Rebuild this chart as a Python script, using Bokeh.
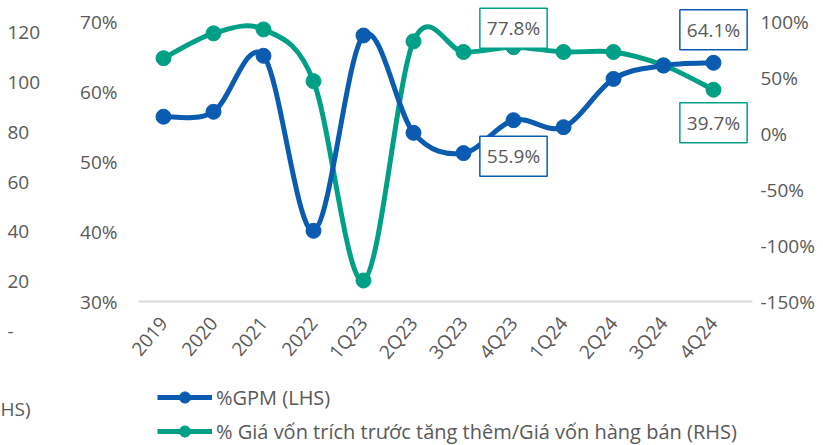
from bokeh.plotting import figure
from bokeh.layouts import row, column
from bokeh.models import (Range1d, LinearAxis, FixedTicker, PrintfTickFormatter,
                          Label, Legend, LegendItem)
from bokeh.embed import file_html
from bokeh.resources import INLINE

categories = ["2019", "2020", "2021", "2022", "1Q23", "2Q23", "3Q23", "4Q23",
              "1Q24", "2Q24", "3Q24", "4Q24"]
gpm = [56.4, 57.1, 65.1, 40.1, 68.0, 54.1, 51.2, 55.9, 54.9, 61.8, 63.7, 64.1]
cogs = [67.9, 90.2, 93.7, 47.3, -131.2, 83.0, 73.5, 77.8, 73.5, 73.5, 61.6, 39.7]
lhs_ticks = [30, 40, 50, 60, 70]
rhs_ticks = [-150, -100, -50, 0, 50, 100]
ghost_values = [0, 20, 40, 60, 80, 100, 120]
ghost_labels = ["-", "20", "40", "60", "80", "100", "120"]
gpm_name = "%GPM (LHS)"
cogs_name = "% Giá vốn trích trước tăng thêm/Giá vốn hàng bán (RHS)"
cut_text = "HS)"

BLUE = "#0B5CB0"
GREEN = "#00A086"
TXT = "#595959"
FONT = "Open Sans"

n = len(categories)
xs = [i + 0.5 for i in range(n)]


def bare(fig):
    fig.outline_line_color = None
    fig.xgrid.visible = False
    fig.ygrid.visible = False
    return fig


# ---- cut-off axis of the neighbouring chart (left strip) ----
g = bare(figure(width=60, height=445, output_backend="svg", toolbar_location=None,
                x_range=Range1d(0, 60), y_range=Range1d(-45.95, 133.05),
                x_axis_type=None, y_axis_type=None,
                min_border=0, min_border_left=0, min_border_right=0,
                min_border_top=0, min_border_bottom=0))
for v, t in zip(ghost_values, ghost_labels):
    g.add_layout(Label(x=7, x_units="screen", y=v, text=t,
                       text_font=FONT, text_font_size="19px", text_color=TXT,
                       text_baseline="middle", text_align="left"))
g.add_layout(Label(x=0, x_units="screen", y=37, y_units="screen", text=cut_text,
                   text_font=FONT, text_font_size="19px", text_color=TXT,
                   text_baseline="middle", text_align="left"))

# ---- main chart ----
p = bare(figure(width=763, height=375, output_backend="svg", toolbar_location=None,
                x_range=Range1d(0, n + 0.28), y_range=Range1d(30, 73.0),
                min_border_left=78, min_border_right=71, min_border_top=0,
                min_border_bottom=73))
p.extra_y_ranges = {"rhs": Range1d(-150, 119.6)}


def smooth(x, y):
    x0, y0, x1, y1, cx0, cy0, cx1, cy1 = [], [], [], [], [], [], [], []
    m = len(x)
    for i in range(m - 1):
        a = max(i - 1, 0)
        d = min(i + 2, m - 1)
        x0.append(x[i]); y0.append(y[i]); x1.append(x[i + 1]); y1.append(y[i + 1])
        cx0.append(x[i] + (x[i + 1] - x[a]) / 6.0)
        cy0.append(y[i] + (y[i + 1] - y[a]) / 6.0)
        cx1.append(x[i + 1] - (x[d] - x[i]) / 6.0)
        cy1.append(y[i + 1] - (y[d] - y[i]) / 6.0)
    return dict(x0=x0, y0=y0, x1=x1, y1=y1, cx0=cx0, cy0=cy0, cx1=cx1, cy1=cy1)


p.bezier(line_color=GREEN, line_width=5, y_range_name="rhs", **smooth(xs, cogs))
p.scatter(xs, cogs, size=15, color=GREEN, y_range_name="rhs")
p.bezier(line_color=BLUE, line_width=5, **smooth(xs, gpm))
p.scatter(xs, gpm, size=15, color=BLUE)

p.xaxis.ticker = FixedTicker(ticks=xs)
p.xaxis.major_label_overrides = {x: c for x, c in zip(xs, categories)}
p.xaxis.major_label_orientation = 0.87
p.xaxis.axis_line_color = "#D9D9D9"
p.xaxis.axis_line_width = 2
p.xaxis.major_tick_line_color = None
p.xaxis.major_tick_out = 0
p.xaxis.minor_tick_line_color = None
p.xaxis.major_label_text_font = FONT
p.xaxis.major_label_text_font_size = "19px"
p.xaxis.major_label_text_color = TXT
p.xaxis.major_label_standoff = 18

p.yaxis.ticker = FixedTicker(ticks=lhs_ticks)
p.yaxis.formatter = PrintfTickFormatter(format="%d%%")
p.yaxis.axis_line_color = None
p.yaxis.major_tick_line_color = None
p.yaxis.major_tick_out = 0
p.yaxis.minor_tick_line_color = None
p.yaxis.major_label_text_font = FONT
p.yaxis.major_label_text_font_size = "19px"
p.yaxis.major_label_text_color = TXT
p.yaxis.major_label_standoff = 21

ax_r = LinearAxis(y_range_name="rhs", ticker=FixedTicker(ticks=rhs_ticks),
                  formatter=PrintfTickFormatter(format="%d%%"))
ax_r.axis_line_color = None
ax_r.major_tick_line_color = None
ax_r.major_tick_out = 0
ax_r.minor_tick_line_color = None
ax_r.major_label_text_font = FONT
ax_r.major_label_text_font_size = "19px"
ax_r.major_label_text_color = TXT
ax_r.major_label_standoff = 8
p.add_layout(ax_r, "right")


def callout(i, vals, color, dy, rng=None):
    kw = dict(y_range_name=rng) if rng else {}
    p.add_layout(Label(x=xs[i], y=vals[i], y_offset=dy, text="%.1f%%" % vals[i],
                       text_font=FONT, text_font_size="19px", text_color=TXT,
                       text_align="center", text_baseline="middle",
                       border_line_color=color, border_line_width=1.5,
                       background_fill_color="white", padding=7, **kw))


callout(7, cogs, GREEN, 19, "rhs")
callout(7, gpm, BLUE, -36)
callout(11, gpm, BLUE, 33)
callout(11, cogs, GREEN, -33, "rhs")

# ---- legend strip (its renderers hold the series, drawn outside its view) ----
lf = bare(figure(width=763, height=70, output_backend="svg", toolbar_location=None,
                 x_range=Range1d(-1, 0), y_range=Range1d(-1, 0),
                 x_axis_type=None, y_axis_type=None,
                 min_border=0, min_border_left=0, min_border_right=0,
                 min_border_top=0, min_border_bottom=0))
lg1 = lf.line(xs, gpm, line_color=BLUE, line_width=5)
lg2 = lf.scatter(xs, gpm, size=15, color=BLUE)
lc1 = lf.line(xs, cogs, line_color=GREEN, line_width=5)
lc2 = lf.scatter(xs, cogs, size=15, color=GREEN)
legend = Legend(items=[LegendItem(label=gpm_name, renderers=[lg1, lg2]),
                       LegendItem(label=cogs_name, renderers=[lc1, lc2])],
                location=(19, 0), orientation="vertical",
                glyph_width=55, glyph_height=28, label_height=28, spacing=6,
                label_standoff=4, padding=0, margin=0,
                border_line_color=None, background_fill_alpha=0,
                label_text_font=FONT, label_text_font_size="20px",
                label_text_color=TXT)
lf.add_layout(legend, "center")

layout = row(g, column(p, lf, spacing=0), spacing=0)
open("out.html", "w").write(file_html(layout, INLINE))
